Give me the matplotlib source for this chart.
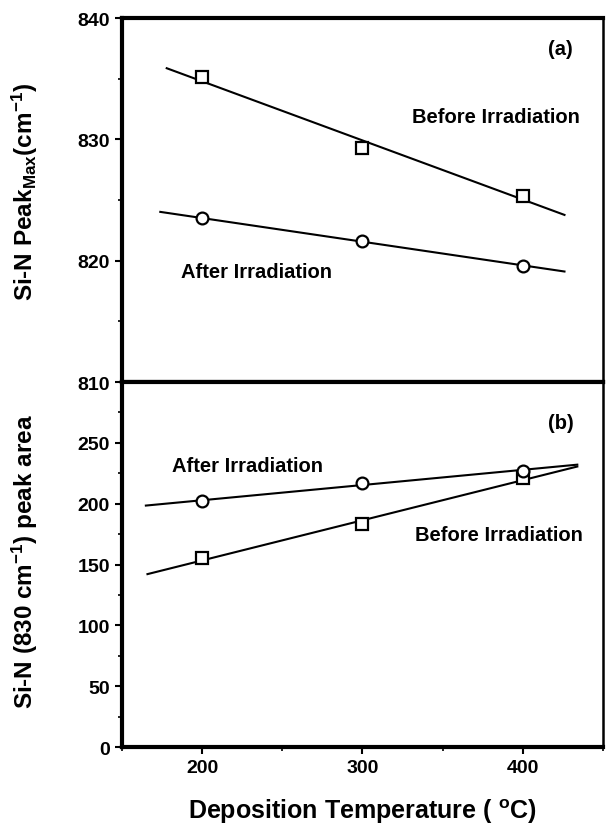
import numpy as np
import matplotlib
matplotlib.use("Agg")
import matplotlib.pyplot as plt
from matplotlib.ticker import MultipleLocator

plt.rcParams['font.family'] = ['Liberation Sans', 'DejaVu Sans']
plt.rcParams['font.weight'] = 'bold'
plt.rcParams['mathtext.fontset'] = 'custom'
plt.rcParams['mathtext.rm'] = 'Liberation Sans:bold'
plt.rcParams['mathtext.it'] = 'Liberation Sans:bold'
plt.rcParams['mathtext.bf'] = 'Liberation Sans:bold'

# Data
temperature = [200, 300, 400]
peak_before = [835.1, 829.3, 825.35]
peak_after = [823.5, 821.6, 819.6]
area_before = [155, 183, 221]
area_after = [202, 217, 227]

fit_range_top_before = (178, 426)
fit_range_top_after = (174, 426)
fit_range_bot_before = (166, 434)
fit_range_bot_after = (165, 434)

fig = plt.figure(figsize=(6.06, 8.28), dpi=100)
ax1 = fig.add_axes([0.201, 0.5374, 0.794, 0.4396])
ax2 = fig.add_axes([0.201, 0.0966, 0.794, 0.4408])

def fit_line(ax, x, y, rng):
    p = np.polyfit(x, y, 1)
    xs = np.array(rng)
    ax.plot(xs, np.polyval(p, xs), color='black', lw=1.5, zorder=2)

for ax, yb, ya, rb, ra in [(ax1, peak_before, peak_after, fit_range_top_before, fit_range_top_after),
                           (ax2, area_before, area_after, fit_range_bot_before, fit_range_bot_after)]:
    fit_line(ax, temperature, yb, rb)
    fit_line(ax, temperature, ya, ra)
    ax.plot(temperature, yb, 's', ms=8, mfc='white', mec='black', mew=1.6, zorder=3)
    ax.plot(temperature, ya, 'o', ms=8.5, mfc='white', mec='black', mew=1.6, zorder=3)
    ax.set_xlim(150, 450)
    ax.xaxis.set_major_locator(MultipleLocator(100))
    ax.xaxis.set_minor_locator(MultipleLocator(50))
    for s in ['left', 'bottom', 'top']:
        ax.spines[s].set_linewidth(3)
    ax.spines['right'].set_linewidth(1.8)
    ax.tick_params(which='major', direction='out', length=5, width=1.5, labelsize=14)
    ax.tick_params(which='minor', direction='out', length=3, width=1.2)

ax1.set_ylim(810, 840)
ax1.yaxis.set_major_locator(MultipleLocator(10))
ax1.yaxis.set_minor_locator(MultipleLocator(5))
ax1.tick_params(axis='x', labelbottom=False)

ax2.set_ylim(0, 300)
ax2.set_yticks([0, 50, 100, 150, 200, 250])
ax2.yaxis.set_minor_locator(MultipleLocator(25))

ax1.set_ylabel(r'Si-N Peak$_{\mathrm{Max}}$(cm$^{\mathrm{-1}}$)', fontsize=17.5, fontweight='bold')
ax2.set_ylabel(r'Si-N (830 cm$^{\mathrm{-1}}$) peak area', fontsize=17.5, fontweight='bold')
ax1.yaxis.set_label_coords(-0.17, 0.525)
ax2.yaxis.set_label_coords(-0.17, 0.51)
ax2.set_xlabel(r'Deposition Temperature ( $^{\mathrm{o}}$C)', fontsize=18, fontweight='bold', labelpad=15)

ax1.text(0.912, 0.915, '(a)', transform=ax1.transAxes, fontsize=14.5, fontweight='bold', ha='center', va='center')
ax1.text(383, 831.9, 'Before Irradiation', fontsize=14.5, fontweight='bold', ha='center', va='center')
ax1.text(234, 819.1, 'After Irradiation', fontsize=14.5, fontweight='bold', ha='center', va='center')

ax2.text(0.912, 0.89, '(b)', transform=ax2.transAxes, fontsize=14.5, fontweight='bold', ha='center', va='center')
ax2.text(228.6, 231, 'After Irradiation', fontsize=14.5, fontweight='bold', ha='center', va='center')
ax2.text(385, 175, 'Before Irradiation', fontsize=14.5, fontweight='bold', ha='center', va='center')

fig.savefig('out.png', dpi=100)
